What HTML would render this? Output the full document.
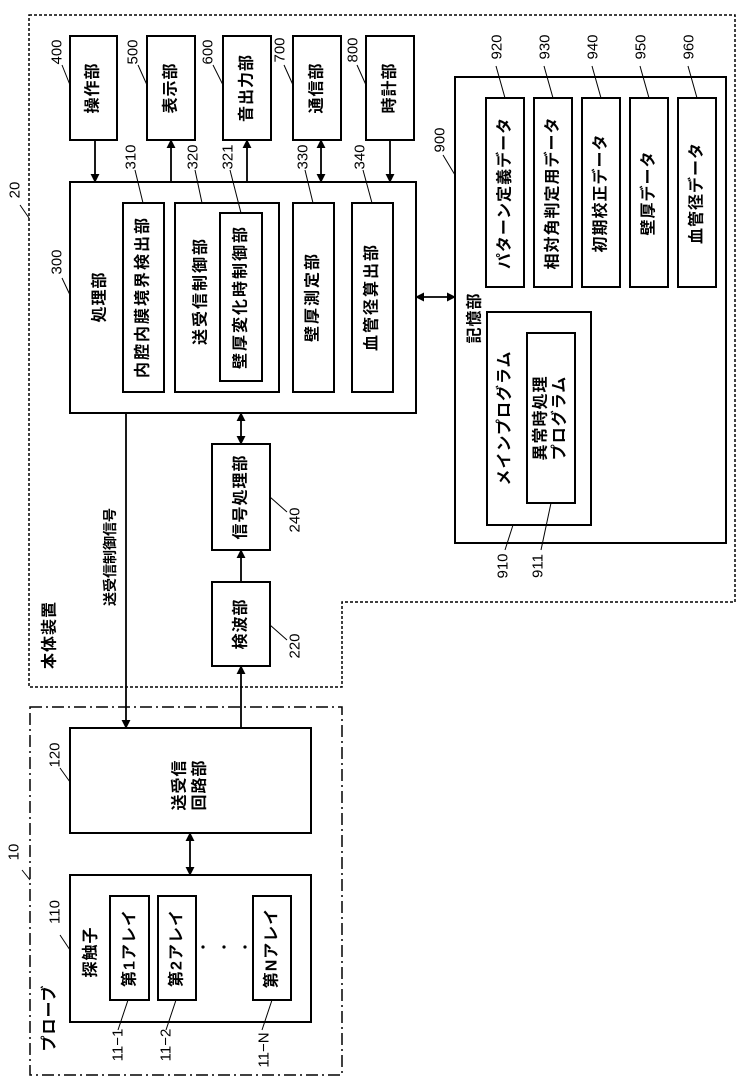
<!DOCTYPE html>
<html><head><meta charset="utf-8"><style>
html,body{margin:0;padding:0;background:#fff}
svg{display:block}
text{font-family:"Liberation Sans","Noto Sans CJK JP",sans-serif;fill:#000}
.j{font-size:16px;font-weight:bold;letter-spacing:1px}
.n{font-size:15px}
</style></head><body>
<svg width="744" height="1087" viewBox="0 0 744 1087" xmlns="http://www.w3.org/2000/svg">
<defs>
<marker id="a" viewBox="0 0 10 10" refX="9" refY="5" markerWidth="9" markerHeight="9" orient="auto-start-reverse" markerUnits="userSpaceOnUse"><path d="M0,0 L10,5 L0,10 z" fill="#000"/></marker>
</defs>
<g fill="none" stroke="#000">
<path d="M29,15 H735 V602 H342 V687 H29 Z" stroke-width="1.5" stroke-dasharray="3,2"/>
<rect x="30" y="707" width="312" height="368" stroke-width="1.5" stroke-dasharray="12,4,2,4"/>
<g stroke-width="2">
<rect x="70" y="36" width="47" height="104"/>
<rect x="147" y="36" width="48" height="104"/>
<rect x="223" y="36" width="48" height="104"/>
<rect x="293" y="36" width="48" height="104"/>
<rect x="366" y="36" width="48" height="104"/>
<rect x="70" y="182" width="346" height="231"/>
<rect x="123" y="203" width="41" height="189"/>
<rect x="175" y="203" width="104" height="189"/>
<rect x="220" y="213" width="42" height="168"/>
<rect x="293" y="203" width="41" height="189"/>
<rect x="352" y="203" width="41" height="189"/>
<rect x="455" y="77" width="271" height="466"/>
<rect x="486" y="98" width="38" height="189"/>
<rect x="534" y="98" width="38" height="189"/>
<rect x="582" y="98" width="38" height="189"/>
<rect x="630" y="98" width="38" height="189"/>
<rect x="678" y="98" width="38" height="189"/>
<rect x="487" y="312" width="104" height="213"/>
<rect x="527" y="333" width="48" height="170"/>
<rect x="212" y="444" width="58" height="106"/>
<rect x="212" y="582" width="58" height="84"/>
<rect x="70" y="728" width="241" height="105"/>
<rect x="70" y="875" width="241" height="147"/>
<rect x="110" y="896" width="39" height="104"/>
<rect x="158" y="896" width="38" height="104"/>
<rect x="253" y="896" width="38" height="104"/>
</g>
<g stroke-width="1.8">
<line x1="95" y1="140" x2="95" y2="182" marker-end="url(#a)"/>
<line x1="171" y1="182" x2="171" y2="140" marker-end="url(#a)"/>
<line x1="247" y1="182" x2="247" y2="140" marker-end="url(#a)"/>
<line x1="321" y1="140" x2="321" y2="182" marker-end="url(#a)" marker-start="url(#a)"/>
<line x1="390" y1="140" x2="390" y2="182" marker-end="url(#a)"/>
<line x1="416" y1="297" x2="455" y2="297" marker-end="url(#a)" marker-start="url(#a)"/>
<line x1="241" y1="413" x2="241" y2="444" marker-end="url(#a)" marker-start="url(#a)"/>
<line x1="241" y1="582" x2="241" y2="550" marker-end="url(#a)"/>
<line x1="241" y1="728" x2="241" y2="666" marker-end="url(#a)"/>
<line x1="126" y1="413" x2="126" y2="728" marker-end="url(#a)"/>
<line x1="190" y1="833" x2="190" y2="875" marker-end="url(#a)" marker-start="url(#a)"/>
</g>
<g stroke-width="1">
<line x1="20" y1="205" x2="29" y2="218"/>
<line x1="62" y1="65" x2="70" y2="85"/>
<line x1="138" y1="65" x2="147" y2="85"/>
<line x1="213" y1="65" x2="223" y2="85"/>
<line x1="284" y1="65" x2="293" y2="85"/>
<line x1="357" y1="65" x2="366" y2="85"/>
<line x1="62" y1="278" x2="70" y2="295"/>
<line x1="135" y1="170" x2="143" y2="203"/>
<line x1="195" y1="170" x2="202" y2="203"/>
<line x1="230" y1="170" x2="241" y2="213"/>
<line x1="305" y1="170" x2="313" y2="203"/>
<line x1="363" y1="170" x2="372" y2="203"/>
<line x1="443" y1="155" x2="455" y2="175"/>
<line x1="496" y1="66" x2="505" y2="98"/>
<line x1="544" y1="66" x2="553" y2="98"/>
<line x1="592" y1="66" x2="601" y2="98"/>
<line x1="640" y1="66" x2="649" y2="98"/>
<line x1="688" y1="66" x2="697" y2="98"/>
<line x1="505" y1="550" x2="513" y2="525"/>
<line x1="541" y1="550" x2="551" y2="503"/>
<line x1="270" y1="497" x2="287" y2="512"/>
<line x1="270" y1="625" x2="287" y2="640"/>
<line x1="60" y1="768" x2="70" y2="782"/>
<line x1="60" y1="935" x2="70" y2="950"/>
<line x1="22" y1="870" x2="30" y2="880"/>
<line x1="118" y1="1030" x2="128" y2="1000"/>
<line x1="166" y1="1030" x2="176" y2="1000"/>
<line x1="262" y1="1030" x2="272" y2="1000"/>
</g>
</g>
<g fill="#000">
<circle cx="203" cy="947" r="1.6"/><circle cx="224" cy="947" r="1.6"/><circle cx="245" cy="947" r="1.6"/>
</g>
<g text-anchor="middle" dominant-baseline="central">
<text class="j" transform="translate(93,88) rotate(-90)">操作部</text>
<text class="j" transform="translate(171,88) rotate(-90)">表示部</text>
<text class="j" transform="translate(247,88) rotate(-90)">音出力部</text>
<text class="j" transform="translate(317,88) rotate(-90)">通信部</text>
<text class="j" transform="translate(390,88) rotate(-90)">時計部</text>
<text class="j" transform="translate(100,297) rotate(-90)">処理部</text>
<text class="j" style="letter-spacing:2px" transform="translate(143,297) rotate(-90)">内腔内膜境界検出部</text>
<text class="j" style="letter-spacing:2px" transform="translate(201,291) rotate(-90)">送受信制御部</text>
<text class="j" style="letter-spacing:2px" transform="translate(241,297) rotate(-90)">壁厚変化時制御部</text>
<text class="j" style="letter-spacing:2px" transform="translate(313,297) rotate(-90)">壁厚測定部</text>
<text class="j" style="letter-spacing:2px" transform="translate(372,297) rotate(-90)">血管径算出部</text>
<text class="j" transform="translate(505,193) rotate(-90)">パターン定義データ</text>
<text class="j" transform="translate(553,193) rotate(-90)">相対角判定用データ</text>
<text class="j" transform="translate(601,193) rotate(-90)">初期校正データ</text>
<text class="j" transform="translate(649,193) rotate(-90)">壁厚データ</text>
<text class="j" transform="translate(697,193) rotate(-90)">血管径データ</text>
<text class="j" transform="translate(475,318) rotate(-90)">記憶部</text>
<text class="j" transform="translate(505,418) rotate(-90)">メインプログラム</text>
<text class="j" transform="translate(541,418) rotate(-90)">異常時処理</text>
<text class="j" transform="translate(560,418) rotate(-90)">プログラム</text>
<text class="j" transform="translate(241,497) rotate(-90)">信号処理部</text>
<text class="j" transform="translate(241,624) rotate(-90)">検波部</text>
<text class="j" style="font-size:14px;letter-spacing:0" transform="translate(110,557) rotate(-90)">送受信制御信号</text>
<text class="j" transform="translate(50,635) rotate(-90)">本体装置</text>
<text class="j" transform="translate(180,785) rotate(-90)">送受信</text>
<text class="j" transform="translate(200,785) rotate(-90)">回路部</text>
<text class="j" transform="translate(91,952) rotate(-90)">探触子</text>
<text class="j" transform="translate(130,948) rotate(-90)">第1アレイ</text>
<text class="j" transform="translate(177,948) rotate(-90)">第2アレイ</text>
<text class="j" transform="translate(272,948) rotate(-90)">第Nアレイ</text>
<text class="j" transform="translate(50,1018) rotate(-90)">プローブ</text>
<text class="n" transform="translate(15,190) rotate(-90)">20</text>
<text class="n" transform="translate(57,52) rotate(-90)">400</text>
<text class="n" transform="translate(133,52) rotate(-90)">500</text>
<text class="n" transform="translate(208,52) rotate(-90)">600</text>
<text class="n" transform="translate(280,50) rotate(-90)">700</text>
<text class="n" transform="translate(353,50) rotate(-90)">800</text>
<text class="n" transform="translate(57,262) rotate(-90)">300</text>
<text class="n" transform="translate(131,157) rotate(-90)">310</text>
<text class="n" transform="translate(193,157) rotate(-90)">320</text>
<text class="n" transform="translate(228,157) rotate(-90)">321</text>
<text class="n" transform="translate(303,157) rotate(-90)">330</text>
<text class="n" transform="translate(360,157) rotate(-90)">340</text>
<text class="n" transform="translate(440,140) rotate(-90)">900</text>
<text class="n" transform="translate(497,47) rotate(-90)">920</text>
<text class="n" transform="translate(545,47) rotate(-90)">930</text>
<text class="n" transform="translate(593,47) rotate(-90)">940</text>
<text class="n" transform="translate(641,47) rotate(-90)">950</text>
<text class="n" transform="translate(689,47) rotate(-90)">960</text>
<text class="n" transform="translate(503,566) rotate(-90)">910</text>
<text class="n" transform="translate(538,566) rotate(-90)">911</text>
<text class="n" transform="translate(295,520) rotate(-90)">240</text>
<text class="n" transform="translate(295,646) rotate(-90)">220</text>
<text class="n" transform="translate(55,755) rotate(-90)">120</text>
<text class="n" transform="translate(55,912) rotate(-90)">110</text>
<text class="n" transform="translate(14,852) rotate(-90)">10</text>
<text class="n" transform="translate(118,1045) rotate(-90)">11−1</text>
<text class="n" transform="translate(166,1045) rotate(-90)">11−2</text>
<text class="n" transform="translate(264,1050) rotate(-90)">11−N</text>
</g>
</svg>
</body></html>
